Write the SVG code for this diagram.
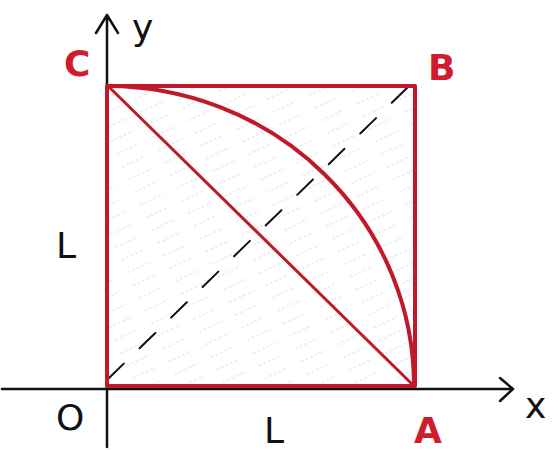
<svg xmlns="http://www.w3.org/2000/svg" width="558" height="450" viewBox="0 0 558 450">
<style>
.red{stroke:#c0192b;fill:none;stroke-linecap:round;stroke-linejoin:round}
.ax{stroke:#111;fill:none;stroke-width:2.5;stroke-linecap:round;stroke-linejoin:round}
.lblr{fill:#d01c2f;font-family:"DejaVu Sans",sans-serif;font-size:36px;font-weight:bold}
.lblk{fill:#111;font-family:"DejaVu Sans",sans-serif;font-size:36px}
</style>
<defs>
<pattern id="hatch" width="40" height="14" patternUnits="userSpaceOnUse" patternTransform="rotate(-25)">
<line x1="0" y1="7" x2="26" y2="7" stroke="#c9d0d8" stroke-width="1.2" stroke-dasharray="3 2"/>
</pattern>
</defs>
<rect width="558" height="450" fill="#fff"/>
<rect x="108" y="86" width="307" height="300" fill="url(#hatch)" opacity="0.7"/>
<g id="axes">
<path class="ax" d="M2 389 L513 389 M500 378 L513 389 L500 401"/>
<path class="ax" d="M107 447 L107 15 M96 33 L107 15 L118 33"/>
</g>
<g id="connectors">
<line x1="108" y1="379" x2="407" y2="88" stroke="#111" stroke-width="2" stroke-dasharray="22 22" stroke-linecap="round"/>
<line class="red" x1="108" y1="86" x2="414" y2="386" stroke-width="3"/>
<path class="red" d="M108 86 A307 300 0 0 1 414 386" stroke-width="4"/>
</g>
<g id="square">
<path class="red" d="M107 86 L415 86 L415 386 L107 386 Z" stroke-width="4"/>
</g>
<g id="labels">
<text class="lblr" x="64" y="76">C</text>
<text class="lblr" x="428" y="80" font-size="38">B</text>
<text class="lblr" x="414" y="443">A</text>
<text class="lblk" x="56" y="430">O</text>
<text class="lblk" x="56" y="258">L</text>
<text class="lblk" x="264" y="443">L</text>
<text class="lblk" x="132" y="40" font-size="40">y</text>
<text class="lblk" x="525" y="418" font-size="40">x</text>
</g>
</svg>
